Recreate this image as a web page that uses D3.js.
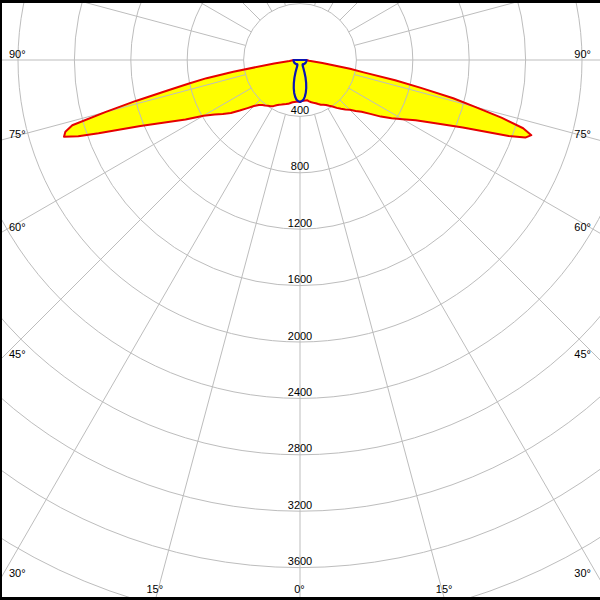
<!DOCTYPE html>
<html>
<head>
<meta charset="utf-8">
<script src="https://cdn.jsdelivr.net/npm/d3@7"></script>
<style>
html,body{margin:0;padding:0;background:#fff;}
svg{display:block;}
text{font-family:"Liberation Sans",Arial,sans-serif;font-size:11px;fill:#000;}
</style>
</head>
<body>
<svg id="chart" width="600" height="600"></svg>
<script>
// ---- data ----
const gammas = [0,2.5,5,7.5,10,12.5,15,17.5,20,22.5,25,27.5,30,32.5,35,37.5,40,42.5,45,47.5,50,52.5,55,57.5,60,62.5,65,67.5,70,71,72,73,74,75,76,77,78,79,80,82.5,85,87.5,90];
// C0 plane (right half, red)
const c0   = [296,292,290,289,290,300,310,318,326,338,350,358,368,385,402,428,452,476,500,535,570,628,700,770,840,925,1060,1250,1575,1690,1725,1655,1490,1290,1120,880,690,460,360,160,65,50,47];
// C180 plane (left half, red)
const c180 = [296,297,298,300,304,312,322,328,334,342,350,362,378,388,396,406,416,432,462,505,558,618,668,718,790,915,1045,1225,1520,1663,1760,1740,1680,1430,1200,970,810,675,480,185,75,52,48];
// C90 plane (right half, blue)
const c90  = [298,292,282,262,236,204,168,130,92,62,46,40,37,36,36,37,38,40,41,41,42,42,43,43,44,44,44,45,45,45,45,45,45,45,45,46,46,46,46,46,46,46,46];
// C270 plane (left half, blue)
const c270 = [298,292,283,263,237,205,169,131,93,63,46,40,37,36,36,37,38,40,41,41,42,42,43,43,44,44,44,45,45,45,45,45,45,45,45,46,46,46,46,46,46,46,46];
const ringLabels = [400,800,1200,1600,2000,2400,2800,3200,3600];
const gridRings = [400,800,1200,1600,2000,2400,2800,3200,3600,4000,4400,4800];
const gridAngles = [0,15,30,45,60,75,90,105,120,135,150,165,180];
const sideAngleLabels = [90,75,60,45,30];
const bottomAngleLabels = [15,0];

// ---- layout ----
const W = 600, H = 600, cx = 300, cy = 60;
const svg = d3.select("#chart");
const r = d3.scaleLinear().domain([0, 400]).range([0, 56.4]);
const rad = d => d * Math.PI / 180;

svg.append("rect").attr("width", W).attr("height", H).attr("fill", "#fff");
const g = svg.append("g").attr("transform", `translate(${cx},${cy})`);

// closed polar outline: right half gamma 90 -> 0, then left half 0 -> 90
function outline(right, left) {
  const pts = [];
  for (let i = gammas.length - 1; i >= 0; i--) pts.push([Math.PI - rad(gammas[i]), r(right[i])]);
  for (let i = 1; i < gammas.length; i++) pts.push([Math.PI + rad(gammas[i]), r(left[i])]);
  return pts;
}
const line = d3.lineRadial().angle(d => d[0]).radius(d => d[1]).curve(d3.curveLinearClosed);

// fill
const redPts = outline(c0, c180);
g.append("path").attr("d", line(redPts)).attr("fill", "#ffff00").attr("stroke", "none");

// grid rings
g.selectAll("circle.ring").data(gridRings).join("circle")
  .attr("class", "ring").attr("r", d => r(d))
  .attr("fill", "none").attr("stroke", "#bdbdbd").attr("stroke-width", 1);

// grid radial lines (from first ring outward), both sides
const spokes = [];
gridAngles.forEach(a => { spokes.push(a); if (a !== 0 && a !== 180) spokes.push(-a); });
g.selectAll("line.spoke").data(spokes).join("line")
  .attr("class", "spoke")
  .attr("x1", d => r(gridRings[0]) * Math.sin(rad(d)))
  .attr("y1", d => r(gridRings[0]) * Math.cos(rad(d)))
  .attr("x2", d => 900 * Math.sin(rad(d)))
  .attr("y2", d => 900 * Math.cos(rad(d)))
  .attr("stroke", "#bdbdbd").attr("stroke-width", 1);

// ring labels along the nadir
g.selectAll("text.rl").data(ringLabels).join("text")
  .attr("class", "rl")
  .attr("x", 0).attr("y", d => r(d) - 2.5)
  .attr("text-anchor", "middle")
  .text(d => d);

// angle labels on the side edges
sideAngleLabels.forEach(a => {
  const t = cx / Math.sin(rad(a));
  const yEdge = cy + t * Math.cos(rad(a));
  svg.append("text").attr("x", 9).attr("y", yEdge - 2.5).attr("text-anchor", "start").text(a + "°");
  svg.append("text").attr("x", W - 9).attr("y", yEdge - 2.5).attr("text-anchor", "end").text(a + "°");
});
// angle labels on the bottom edge
bottomAngleLabels.forEach(a => {
  const dx = (H - cy) * Math.tan(rad(a));
  const xs = a === 0 ? [0] : [-dx, dx];
  xs.forEach(x => {
    svg.append("text").attr("x", cx + x - 0.5).attr("y", 593).attr("text-anchor", "middle").text(a + "°");
  });
});

// red outline
g.append("path").attr("d", line(redPts)).attr("fill", "none")
  .attr("stroke", "#e60000").attr("stroke-width", 2).attr("stroke-linejoin", "round");

// blue outline
const bluePts = outline(c90, c270);
g.append("path").attr("d", line(bluePts)).attr("fill", "none")
  .attr("stroke", "#0a14b4").attr("stroke-width", 2.2).attr("stroke-linejoin", "round");

// frame (top, left, bottom)
svg.append("rect").attr("x", 0).attr("y", 0).attr("width", W).attr("height", 3).attr("fill", "#000");
svg.append("rect").attr("x", 0).attr("y", 0).attr("width", 2).attr("height", H).attr("fill", "#000");
svg.append("rect").attr("x", 0).attr("y", H - 3).attr("width", W).attr("height", 3).attr("fill", "#000");
</script>
</body>
</html>
